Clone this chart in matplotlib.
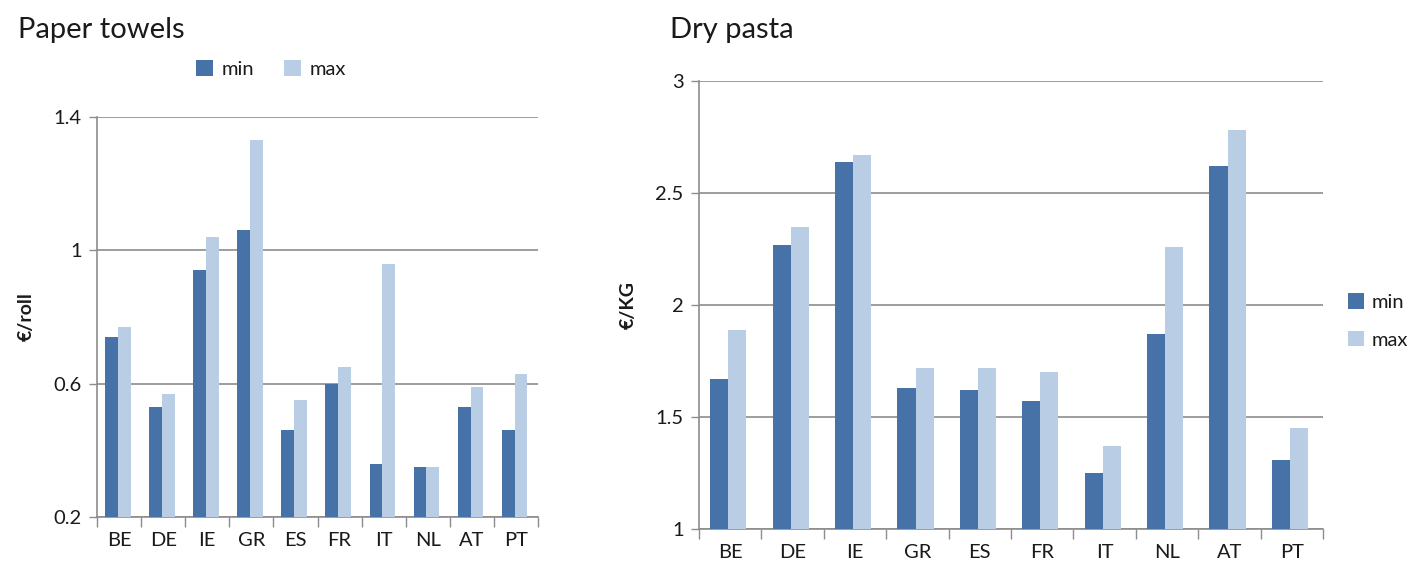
import matplotlib
matplotlib.use("Agg")
import matplotlib.pyplot as plt
import numpy as np

countries = ["BE", "DE", "IE", "GR", "ES", "FR", "IT", "NL", "AT", "PT"]
towels_min = [0.74, 0.53, 0.94, 1.06, 0.46, 0.60, 0.36, 0.35, 0.53, 0.46]
towels_max = [0.77, 0.57, 1.04, 1.33, 0.55, 0.65, 0.96, 0.35, 0.59, 0.63]
pasta_min = [1.67, 2.27, 2.64, 1.63, 1.62, 1.57, 1.25, 1.87, 2.62, 1.31]
pasta_max = [1.89, 2.35, 2.67, 1.72, 1.72, 1.70, 1.37, 2.26, 2.78, 1.45]
towels_ticks = [0.2, 0.6, 1.0, 1.4]
towels_ticklabels = ["0.2", "0.6", "1", "1.4"]
pasta_ticks = [1, 1.5, 2, 2.5, 3]
pasta_ticklabels = ["1", "1.5", "2", "2.5", "3"]

C_MIN = "#4672A8"
C_MAX = "#B9CDE5"
GRID = "#8C8C8C"
TXT = "#1a1a1a"
plt.rcParams['font.family'] = ['Lato', 'DejaVu Sans']

W, H = 1416, 567
fig = plt.figure(figsize=(W / 100, H / 100), dpi=100)


def make_ax(left, top, right, bottom):
    return fig.add_axes([left / W, 1 - bottom / H, (right - left) / W, (bottom - top) / H])


def style(ax, mins, maxs, ticks, ticklabels, ylim, ylabel):
    x = np.arange(len(countries))
    bw = 0.29
    ax.bar(x - bw / 2 - 0.03, mins, bw, color=C_MIN, label="min", zorder=3,
           linewidth=0)
    ax.bar(x + bw / 2 - 0.03, maxs, bw, color=C_MAX, label="max", zorder=3,
           linewidth=0)
    ax.set_ylim(*ylim)
    ax.set_xlim(-0.5, len(countries) - 0.5)
    ax.set_yticks(ticks)
    ax.set_yticklabels(ticklabels, fontsize=14.5, color=TXT)
    ax.set_xticks(np.arange(-0.5, len(countries) + 0.5, 1))
    ax.set_xticklabels([])
    ax.set_xticks(x, minor=True)
    ax.set_xticklabels(countries, minor=True, fontsize=14.5, color=TXT)
    ax.tick_params(axis="x", which="major", length=7, color=GRID, width=1)
    ax.tick_params(axis="x", which="minor", length=0, pad=11)
    ax.tick_params(axis="y", length=6, color=GRID, width=1, pad=5)
    ax.grid(axis="y", color=GRID, linewidth=1.2, zorder=0)
    for s in ["top", "right"]:
        ax.spines[s].set_visible(False)
    for s in ["left", "bottom"]:
        ax.spines[s].set_color(GRID)
        ax.spines[s].set_linewidth(1.2)
    ax.set_ylabel(ylabel, fontsize=14, fontweight="bold", color=TXT)


ax1 = make_ax(97, 117, 538, 517)
style(ax1, towels_min, towels_max, towels_ticks, towels_ticklabels, (0.2, 1.4), "€/roll")
ax1.yaxis.set_label_coords(-62 / 441, 0.5)
fig.text(18 / W, 1 - 30 / H, "Paper towels", fontsize=21, va="center", ha="left", color=TXT)
ax1.legend(loc="center", bbox_to_anchor=(0.395, (517 - 69) / 400), ncol=2, frameon=False,
           fontsize=14.5, handlelength=0.8, handleheight=0.8, columnspacing=1.5,
           handletextpad=0.45, labelcolor=TXT)

ax2 = make_ax(699, 81, 1323, 529)
style(ax2, pasta_min, pasta_max, pasta_ticks, pasta_ticklabels, (1, 3), "€/KG")
ax2.yaxis.set_label_coords(-62 / 624, 0.5)
fig.text(670 / W, 1 - 30 / H, "Dry pasta", fontsize=21, va="center", ha="left", color=TXT)
ax2.legend(loc="center left", bbox_to_anchor=(1.02, (529 - 321) / 448), ncol=1,
           frameon=False, fontsize=14.5, handlelength=0.8, handleheight=0.8,
           labelspacing=1.0, handletextpad=0.4, borderaxespad=0.2, labelcolor=TXT)

fig.savefig("out.png", dpi=100, facecolor="white")
